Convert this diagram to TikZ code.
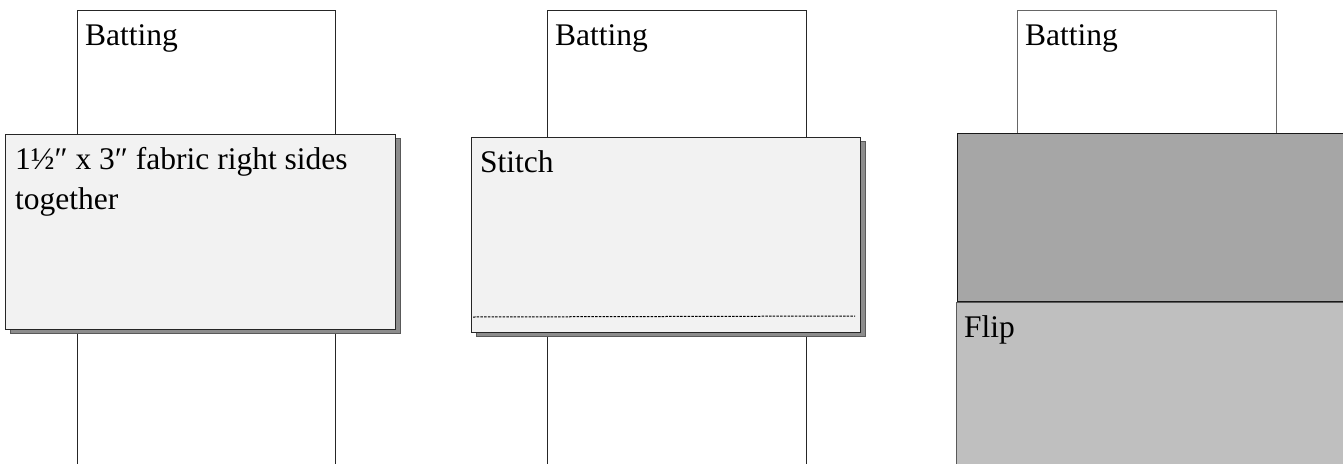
\documentclass[tikz,border=0pt]{standalone}
\usepackage{fontspec}
\setmainfont{Liberation Serif}
\definecolor{panelfill}{HTML}{F2F2F2}
\definecolor{shadowfill}{HTML}{8C8C8C}
\definecolor{shadowline}{HTML}{595959}
\definecolor{darkfill}{HTML}{A6A6A6}
\definecolor{lightfill}{HTML}{BFBFBF}
\begin{document}
\begin{tikzpicture}[x=1pt,y=-1pt,
  batting/.style={draw=black!85,line width=0.9pt,fill=white,inner sep=0pt,anchor=north west},
  frontbox/.style={draw=black!85,line width=1.3pt,fill=panelfill,inner sep=0pt,anchor=north west},
  shadowbox/.style={draw=shadowline,line width=1pt,fill=shadowfill,inner sep=0pt,anchor=north west},
  label/.style={inner sep=0pt,anchor=base west,font=\fontsize{31.5}{40}\selectfont,align=left},
]
\useasboundingbox (0,0) rectangle (1343,463);
% panel 1
\node[batting,minimum width=258pt,minimum height=470pt] (bat1) at (77,10) {};
\node[shadowbox,minimum width=390pt,minimum height=195pt] (sh1) at (10,138) {};
\node[frontbox,minimum width=390pt,minimum height=195pt] (box1) at (5,134) {};
\node[label] (t1) at (85,45) {Batting};
\node[label] (t2) at (15,209) {1½″ x 3″ fabric right sides\\together};
% panel 2
\node[batting,minimum width=259pt,minimum height=470pt] (bat2) at (547,10) {};
\node[shadowbox,minimum width=389pt,minimum height=195pt] (sh2) at (476,141) {};
\node[frontbox,minimum width=389pt,minimum height=195pt] (box2) at (471,137) {};
\node[label] (t3) at (555,45) {Batting};
\node[label] (t4) at (480,172) {Stitch};
\coordinate (s1) at (473,317);
\coordinate (s2) at (855,316);
\draw[black,line width=1pt,dash pattern=on 2.5pt off 1.2pt] (s1) -- (s2);
% panel 3
\node[draw=black!60,line width=0.9pt,fill=white,inner sep=0pt,anchor=north west,minimum width=259pt,minimum height=123pt] (bat3) at (1017,10) {};
\node[draw=black!90,line width=1.1pt,fill=darkfill,inner sep=0pt,anchor=north west,minimum width=420pt,minimum height=168pt] (dark3) at (957,133) {};
\node[draw=black!65,line width=1.2pt,fill=lightfill,inner sep=0pt,anchor=north west,minimum width=420pt,minimum height=200pt] (flip3) at (956,302) {};
\node[label] (t5) at (1025,45) {Batting};
\node[label] (t6) at (964,337) {Flip};
\end{tikzpicture}
\end{document}
